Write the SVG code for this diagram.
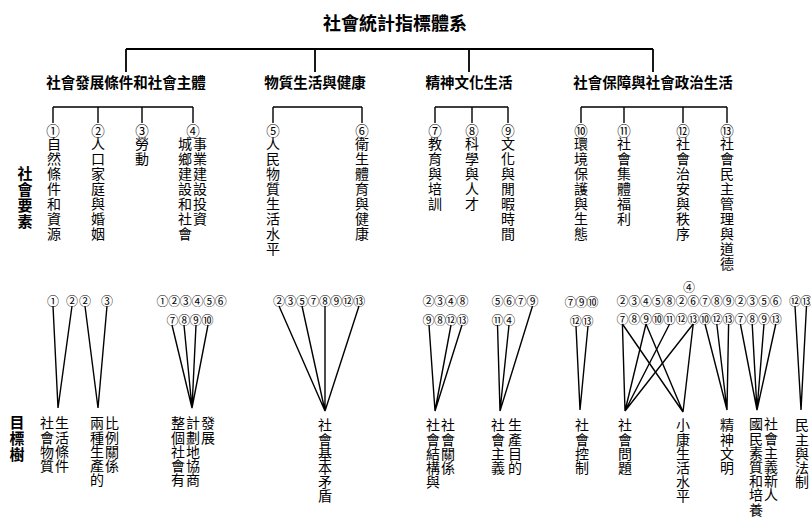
<svg xmlns="http://www.w3.org/2000/svg" width="811" height="519" viewBox="0 0 811 519">
<style>
text{font-family:"Noto Sans CJK TC","Noto Sans CJK SC",sans-serif;fill:#000}
.title{font-size:18px;font-weight:bold;text-anchor:middle}
.cat{font-size:14.5px;font-weight:bold;text-anchor:middle}
.c{font-size:13.5px;text-anchor:middle;dominant-baseline:central}
.cs{font-size:12px;text-anchor:middle;dominant-baseline:central}
.v{font-size:14px;writing-mode:vertical-rl;letter-spacing:1px}
.vs{font-size:14px;writing-mode:vertical-rl;letter-spacing:0.2px}
.vb{font-size:15px;font-weight:bold;writing-mode:vertical-rl;letter-spacing:1px}
.ln{stroke:#000;stroke-width:1.4;fill:none}
.lb{stroke:#000;stroke-width:1.8;fill:none}
</style>
<rect width="811" height="519" fill="#fff"/>
<g id="title"><text class="title" x="395" y="30">社會統計指標體系</text></g>
<g id="cat1"><text class="cat" x="126" y="88">社會發展條件和社會主體</text></g>
<g id="cat2"><text class="cat" x="315" y="88">物質生活與健康</text></g>
<g id="cat3"><text class="cat" x="469" y="88">精神文化生活</text></g>
<g id="cat4"><text class="cat" x="653" y="88">社會保障與社會政治生活</text></g>
<g id="side1"><text class="vb" x="25" y="166">社會要素</text></g>
<g id="side2"><text class="vb" x="17" y="415">目標樹</text></g>
<g id="n1"><text class="c" x="53" y="130">①</text><text class="v" x="54" y="137">自然條件和資源</text></g>
<g id="n2"><text class="c" x="98" y="130">②</text><text class="v" x="98" y="137">人口家庭與婚姻</text></g>
<g id="n3"><text class="c" x="142" y="130">③</text><text class="v" x="142" y="137">勞動</text></g>
<g id="n4"><text class="c" x="193" y="130">④</text><text class="v" x="185" y="137">城鄉建設和社會</text><text class="v" x="200" y="137">事業建設投資</text></g>
<g id="n5"><text class="c" x="273" y="130">⑤</text><text class="v" x="273" y="137">人民物質生活水平</text></g>
<g id="n6"><text class="c" x="362" y="130">⑥</text><text class="v" x="362" y="137">衛生體育與健康</text></g>
<g id="n7"><text class="c" x="435" y="130">⑦</text><text class="v" x="435" y="137">教育與培訓</text></g>
<g id="n8"><text class="c" x="472" y="130">⑧</text><text class="v" x="472" y="137">科學與人才</text></g>
<g id="n9"><text class="c" x="508" y="130">⑨</text><text class="v" x="508" y="137">文化與閒暇時間</text></g>
<g id="n10"><text class="c" x="581" y="130">⑩</text><text class="v" x="581" y="137">環境保護與生態</text></g>
<g id="n11"><text class="c" x="624" y="130">⑪</text><text class="v" x="624" y="137">社會集體福利</text></g>
<g id="n12"><text class="c" x="683" y="130">⑫</text><text class="v" x="683" y="137">社會治安與秩序</text></g>
<g id="n13"><text class="c" x="727" y="130">⑬</text><text class="v" x="727" y="137">社會民主管理與道德</text></g>
<g id="t1"><text class="cs" x="53 72 85 107" y="300">①②②③</text><text class="vs" x="47" y="416">社會物質</text><text class="vs" x="62" y="416">生活條件</text><text class="vs" x="97" y="416">兩種生產的</text><text class="vs" x="112" y="416">比例關係</text></g>
<g id="t2"><text class="cs" x="162.5 174.2 185.8 197.5 209.2 220.8" y="300">①②③④⑤⑥</text><text class="cs" x="172.5 184.2 195.8 207.5" y="319">⑦⑧⑨⑩</text><text class="vs" x="178" y="416">整個社會有</text><text class="vs" x="193" y="416">計劃地協商</text><text class="vs" x="208" y="416">發展</text></g>
<g id="t3"><text class="cs" x="279 290.5 302 313.4 324.9 336.3 347.8 359.3" y="300">②③⑤⑦⑧⑨⑫⑬</text><text class="vs" x="325" y="418">社會基本矛盾</text></g>
<g id="t4"><text class="cs" x="428.6 439.9 451.1 462.4" y="300">②③④⑧</text><text class="cs" x="428.6 439.9 451.1 462.4" y="319">⑨⑧⑫⑬</text><text class="vs" x="433" y="418">社會結構與</text><text class="vs" x="448" y="418">社會關係</text></g>
<g id="t5"><text class="cs" x="497.5 509.2 520.8 532.5" y="300">⑤⑥⑦⑨</text><text class="cs" x="497.5 509.2" y="319">⑪④</text><text class="vs" x="498" y="418">社會主義</text><text class="vs" x="515" y="418">生產目的</text></g>
<g id="t6"><text class="cs" x="570.5 581.5 592.5" y="301">⑦⑨⑩</text><text class="cs" x="575.8 587.5" y="320">⑫⑬</text><text class="vs" x="582" y="418">社會控制</text></g>
<g id="t7"><text class="cs" x="689" y="286">④</text><text class="cs" x="622.4 634.2 646 657.8 669.6 681.4 693.2 705 716.8 728.6 740.4 752.2 764 775.8" y="300.5">②③④⑤⑧②⑥⑦⑧⑨②③⑤⑥</text><text class="cs" x="622.4 634.2 646 657.8 669.6 681.4 693.2 705 716.8 728.6 740.4 752.2 764 775.8" y="318">⑦⑧⑨⑩⑪⑫⑬⑩⑫⑬⑦⑧⑨⑬</text><text class="vs" x="625" y="418">社會問題</text><text class="vs" x="683" y="418">小康生活水平</text><text class="vs" x="727" y="418">精神文明</text><text class="vs" x="756" y="417">國民素質和培養</text><text class="vs" x="771" y="417">社會主義新人</text></g>
<g id="t8"><text class="cs" x="795 806.5" y="300">⑫⑬</text><text class="vs" x="802" y="418">民主與法制</text></g>
<g id="connectors">
<path class="lb" d="M126 49H653M126 49V72M315 49V72M469 49V72M653 49V72"/>
<path class="ln" d="M53 107H193M53 107V123M98 107V123M142 107V123M193 107V123"/>
<path class="ln" d="M273 107H362M273 107V123M362 107V123"/>
<path class="ln" d="M435 107H508M435 107V123M472 107V123M508 107V123"/>
<path class="ln" d="M581 107H727M581 107V123M624 107V123M683 107V123M727 107V123"/>
<path class="ln" d="M53 306L58 408L72 306M85 306L98 408L107 306"/>
<path class="ln" d="M172 325L192 408L184 325M196 325L192 408L208 325"/>
<path class="ln" d="M279 306L325 411L302 306M325 306L325 411L359 306"/>
<path class="ln" d="M429 325L435 411L451 325M462 325L435 411"/>
<path class="ln" d="M497.5 325L500 411L509 325M532.5 306L500 411"/>
<path class="ln" d="M576 326L580 410L588 326"/>
<path class="ln" d="M622.4 324L625 411L646 324M669.6 324L625 411L693.2 324"/>
<path class="ln" d="M622.4 324L683 412L646 324M693.2 324L683 412"/>
<path class="ln" d="M705 324L727 410L716.8 324M728.6 324L727 410"/>
<path class="ln" d="M740.4 324L757 410L752.2 324M764 324L757 410L775.8 324"/>
<path class="ln" d="M795 306L801 410L806.5 306"/>
</g>
</svg>
